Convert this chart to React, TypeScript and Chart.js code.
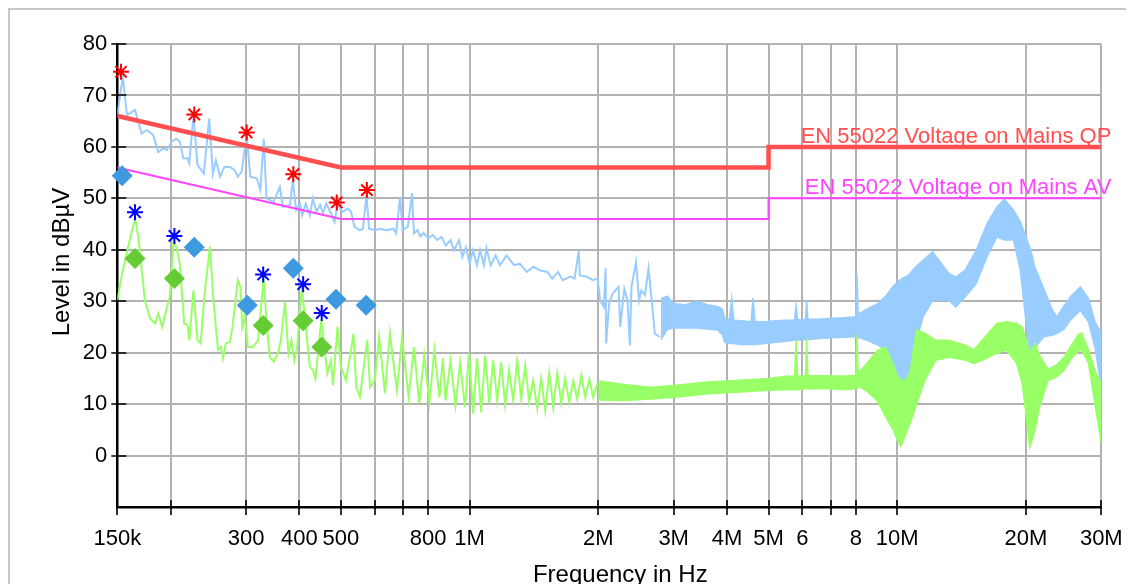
import React, { useEffect, useRef } from 'react';
import { Chart, registerables } from 'chart.js';

Chart.register(...registerables);

// ---------- axis ticks ----------
const xTickValuesHz = [150e3, 200e3, 300e3, 400e3, 500e3, 600e3, 700e3, 800e3, 1e6, 2e6, 3e6, 4e6, 5e6, 6e6, 7e6, 8e6, 10e6, 20e6, 30e6];
const xTickLabels = ['150k', '', '300', '400', '500', '', '', '800', '1M', '2M', '3M', '4M', '5M', '6', '', '8', '10M', '20M', '30M'];

// ---------- peak trace (light blue), [MHz, dBµV] ----------
const blueTrace: [number, number][] = [
  [0.150, 66.2], [0.1545, 73.6], [0.158, 66.2], [0.165, 67.2], [0.171, 62.6], [0.176, 63.3], [0.182, 62.3], [0.187, 59.0],
  [0.192, 59.7], [0.196, 59.4], [0.201, 61.0], [0.206, 61.6], [0.210, 61.0], [0.214, 57.8], [0.219, 57.8], [0.221, 56.8],
  [0.226, 66.2], [0.231, 56.5], [0.239, 54.8], [0.246, 65.5], [0.251, 54.8], [0.255, 57.4], [0.261, 54.2], [0.267, 56.1],
  [0.275, 56.1], [0.282, 55.5], [0.287, 54.2], [0.293, 55.2], [0.301, 62.3], [0.307, 54.2], [0.318, 53.9], [0.324, 51.6],
  [0.330, 61.6], [0.335, 50.0], [0.348, 49.3], [0.360, 52.2], [0.366, 48.3], [0.380, 48.7], [0.386, 53.5], [0.393, 47.7],
  [0.401, 49.0], [0.406, 46.7], [0.414, 49.0], [0.423, 46.7], [0.430, 50.0], [0.438, 47.4], [0.447, 48.7], [0.454, 47.1],
  [0.462, 49.0], [0.474, 47.1], [0.483, 45.4], [0.491, 48.7], [0.505, 47.4], [0.519, 48.0], [0.528, 47.4], [0.538, 44.5],
  [0.554, 43.8], [0.563, 44.1], [0.574, 50.6], [0.582, 44.1], [0.600, 43.8], [0.617, 44.1], [0.640, 43.8], [0.664, 44.1],
  [0.673, 43.2], [0.688, 50.3], [0.697, 43.8], [0.717, 44.5], [0.733, 51.0], [0.741, 43.2], [0.755, 43.8], [0.767, 42.6],
  [0.780, 43.3], [0.800, 42.2], [0.820, 42.9], [0.840, 41.9], [0.860, 42.5], [0.880, 40.8], [0.902, 41.9], [0.919, 39.9],
  [0.945, 41.9], [0.961, 38.6], [0.980, 40.5], [1.000, 37.3], [1.018, 39.9], [1.040, 37.0], [1.058, 39.9], [1.080, 37.0],
  [1.095, 40.3], [1.120, 37.0], [1.150, 38.9], [1.178, 37.0], [1.220, 38.9], [1.270, 37.0], [1.310, 37.3], [1.360, 35.7],
  [1.410, 36.7], [1.460, 36.0], [1.520, 35.7], [1.560, 34.4], [1.610, 35.7], [1.650, 34.1], [1.720, 34.8], [1.760, 34.4],
  [1.800, 39.9], [1.810, 35.0], [1.880, 34.8], [1.940, 34.1], [1.990, 34.4], [2.020, 30.2], [2.060, 28.9], [2.080, 36.4],
  [2.085, 21.8], [2.120, 29.6], [2.160, 31.5], [2.230, 32.8], [2.250, 25.0], [2.300, 32.4], [2.340, 30.2], [2.370, 21.4],
  [2.390, 32.8], [2.450, 37.6], [2.490, 30.2], [2.520, 32.1], [2.570, 31.2], [2.620, 36.4], [2.670, 29.6], [2.710, 23.7],
  [2.780, 23.1],
];
// dense part of the peak trace: [MHz, upper dBµV, lower dBµV]
const blueBand: [number, number, number][] = [
  [2.80, 30.5, 22.5], [2.90, 31.0, 24.5], [3.00, 29.5, 24.8], [3.20, 29.3, 24.8], [3.40, 30.0, 24.8], [3.60, 29.3, 24.6],
  [3.80, 29.0, 24.4], [3.90, 28.5, 23.5], [3.95, 26.5, 22.0], [4.05, 26.5, 21.8], [4.10, 30.6, 21.8], [4.15, 26.3, 21.8],
  [4.30, 26.2, 21.6], [4.55, 26.0, 21.6], [4.60, 30.6, 21.6], [4.65, 26.0, 21.6], [4.90, 26.0, 21.8], [5.20, 26.2, 22.0],
  [5.50, 26.3, 22.2], [5.75, 26.3, 22.4], [5.80, 29.2, 22.4], [5.85, 26.4, 22.4], [6.10, 26.4, 22.5], [6.14, 30.2, 22.5],
  [6.18, 26.5, 22.5], [6.50, 26.5, 22.7], [7.00, 26.7, 22.9], [7.50, 26.8, 23.0], [8.00, 27.0, 23.1], [8.05, 35.5, 23.1],
  [8.10, 27.5, 23.0], [8.50, 28.5, 22.4], [9.00, 29.5, 21.5], [9.40, 31.0, 20.5], [9.80, 33.0, 16.0], [10.10, 34.0, 11.5],
  [10.30, 34.5, 11.4], [10.60, 35.0, 15.0], [11.00, 36.5, 21.5], [11.50, 38.0, 27.0], [12.10, 39.6, 30.2], [13.20, 35.4, 30.2],
  [13.70, 34.7, 28.9], [14.40, 36.0, 30.8], [15.30, 39.9, 33.4], [16.20, 45.0, 38.6], [17.10, 48.3, 42.5], [17.80, 49.8, 41.9],
  [18.70, 47.7, 41.9], [19.40, 45.5, 36.0], [20.00, 42.5, 26.0], [20.50, 40.0, 18.0], [21.00, 36.5, 21.0], [22.00, 32.5, 23.1],
  [23.00, 28.5, 23.4], [23.60, 26.9, 23.7], [24.50, 29.0, 24.5], [25.50, 31.0, 26.5], [26.80, 32.8, 28.2], [28.00, 30.5, 26.0],
  [29.00, 26.0, 21.0], [30.00, 23.7, 13.3],
];

// ---------- average trace (light green), [MHz, dBµV] ----------
const greenTrace: [number, number][] = [
  [0.150, 30.2], [0.154, 35.4], [0.159, 40.6], [0.165, 46.1], [0.168, 42.5], [0.174, 30.2], [0.179, 26.6], [0.184, 25.7],
  [0.187, 27.6], [0.191, 25.0], [0.196, 28.9], [0.199, 30.8], [0.203, 41.5], [0.206, 40.6], [0.210, 37.3], [0.215, 25.7],
  [0.219, 25.3], [0.221, 22.4], [0.226, 32.1], [0.231, 22.4], [0.235, 21.8], [0.240, 31.5], [0.247, 40.6], [0.251, 31.5],
  [0.255, 25.0], [0.258, 20.5], [0.262, 21.1], [0.265, 18.9], [0.269, 21.8], [0.275, 22.1], [0.279, 25.0], [0.287, 34.1],
  [0.291, 32.8], [0.294, 25.0], [0.298, 27.0], [0.303, 21.1], [0.311, 21.1], [0.320, 22.4], [0.330, 34.7], [0.335, 25.7],
  [0.341, 19.2], [0.348, 18.2], [0.356, 19.8], [0.362, 22.4], [0.370, 29.9], [0.377, 19.8], [0.383, 22.4], [0.389, 18.5],
  [0.395, 21.0], [0.405, 32.8], [0.414, 25.0], [0.423, 17.2], [0.430, 16.6], [0.436, 15.0], [0.441, 19.2], [0.450, 26.3],
  [0.457, 21.1], [0.465, 16.0], [0.474, 18.5], [0.479, 13.7], [0.491, 25.0], [0.500, 17.2], [0.514, 14.6], [0.528, 20.5],
  [0.535, 23.7], [0.543, 13.3], [0.554, 11.4], [0.563, 16.0], [0.576, 22.4], [0.585, 13.3], [0.600, 14.6], [0.614, 23.1],
  [0.634, 12.1], [0.651, 23.8], [0.676, 12.7], [0.695, 23.0], [0.720, 11.3], [0.741, 21.1], [0.762, 10.2], [0.783, 19.5],
  [0.805, 10.3], [0.827, 20.5], [0.850, 11.3], [0.866, 18.9], [0.878, 10.7], [0.902, 18.5], [0.927, 9.8], [0.950, 18.1],
  [0.975, 9.4], [0.997, 19.9], [1.019, 8.2], [1.041, 18.9], [1.064, 8.4], [1.087, 19.5], [1.111, 10.2], [1.135, 18.5],
  [1.160, 10.7], [1.185, 18.1], [1.211, 9.8], [1.237, 16.6], [1.264, 10.7], [1.292, 18.5], [1.320, 11.1], [1.349, 17.5],
  [1.378, 10.5], [1.408, 14.6], [1.439, 9.2], [1.470, 15.0], [1.502, 8.8], [1.535, 16.0], [1.568, 9.4], [1.603, 16.0],
  [1.638, 10.2], [1.673, 15.0], [1.710, 10.3], [1.747, 14.5], [1.785, 11.0], [1.824, 15.6], [1.864, 11.3], [1.905, 14.8],
  [1.946, 11.3], [1.989, 14.0],
];
// dense part of the average trace: [MHz, upper dBµV, lower dBµV]
const greenBand: [number, number, number][] = [
  [2.00, 14.5, 10.8], [2.30, 13.8, 10.7], [2.65, 13.3, 11.0], [3.00, 13.6, 11.3], [3.60, 14.3, 12.0], [4.20, 14.6, 12.3],
  [5.00, 15.0, 12.7], [5.50, 15.4, 12.8], [5.75, 15.4, 12.8], [5.80, 22.4, 12.8], [5.85, 15.4, 12.8], [6.10, 15.5, 13.0],
  [6.14, 22.8, 13.0], [6.18, 15.5, 13.0], [7.00, 15.5, 13.0], [7.50, 15.4, 12.8], [8.00, 15.6, 13.0], [8.05, 23.5, 13.0],
  [8.10, 16.0, 13.5], [8.50, 18.0, 12.5], [9.00, 20.5, 10.5], [9.40, 21.0, 7.5], [9.80, 17.5, 4.9], [10.00, 15.5, 3.0],
  [10.20, 14.6, 1.8], [10.40, 14.5, 3.6], [10.70, 16.0, 6.2], [10.90, 20.5, 8.0], [11.10, 24.4, 10.1], [11.60, 23.8, 14.6],
  [12.30, 22.4, 18.5], [13.20, 22.4, 19.1], [14.50, 21.4, 18.5], [15.10, 20.5, 17.9], [15.80, 22.4, 18.5], [17.10, 25.7, 19.9],
  [18.00, 26.0, 20.5], [19.00, 25.7, 18.0], [19.60, 25.0, 14.0], [20.00, 22.5, 8.0], [20.40, 20.0, 1.6], [21.00, 21.8, 5.0],
  [21.50, 19.5, 9.4], [22.50, 16.8, 14.6], [23.50, 17.5, 15.2], [24.50, 19.0, 16.5], [25.50, 21.3, 18.8], [26.50, 23.5, 20.3],
  [27.00, 23.8, 20.5], [28.00, 20.5, 17.9], [29.00, 16.5, 10.0], [30.00, 14.0, 2.4],
];

// ---------- limit lines ----------
const limitFreqMHz = [0.15, 0.5, 5, 5, 30];
const qpLimitLevel = [66, 56, 56, 60, 60];
const avLimitLevel = [56, 46, 46, 50, 50];
const qpLimitLabel = 'EN 55022 Voltage on Mains QP';
const avLimitLabel = 'EN 55022 Voltage on Mains AV';

// ---------- final measurement markers ----------
const redStarFreqMHz = [0.153, 0.227, 0.301, 0.387, 0.489, 0.575];
const redStarLevel = [74.6, 66.3, 62.8, 54.7, 49.2, 51.6];
const blueDiamondFreqMHz = [0.154, 0.227, 0.302, 0.387, 0.487, 0.573];
const blueDiamondLevel = [54.4, 40.5, 29.2, 36.4, 30.4, 29.2];
const blueStarFreqMHz = [0.165, 0.204, 0.329, 0.408, 0.451];
const blueStarLevel = [47.3, 42.7, 35.2, 33.3, 27.7];
const greenDiamondFreqMHz = [0.165, 0.204, 0.329, 0.408, 0.451];
const greenDiamondLevel = [38.3, 34.4, 25.3, 26.2, 21.1];

const FONT = '"Liberation Sans", Arial, Helvetica, sans-serif';
const C_BLUE = '#99ccff';
const C_GREEN = '#99ff66';
const C_QP = '#ff4f4f';
const C_AV = '#ff44ff';

const pts = (f: number[], v: number[]) => f.map((m, i) => ({ x: m * 1e6, y: v[i] }));
const pairPts = (a: [number, number][]) => a.map(([m, v]) => ({ x: m * 1e6, y: v }));
const bandPts = (a: [number, number, number][], k: 1 | 2) => a.map((r) => ({ x: r[0] * 1e6, y: r[k] }));

const overlayPlugin = {
  id: 'overlay',
  afterDraw(chart: any) {
    const { ctx, chartArea, scales } = chart;
    const xs = scales.x;
    const ys = scales.y;
    ctx.save();
    // tick marks crossing the axes
    ctx.strokeStyle = '#000';
    ctx.lineWidth = 1.6;
    ctx.beginPath();
    for (const v of xTickValuesHz) {
      const px = Math.round(xs.getPixelForValue(v));
      ctx.moveTo(px, chartArea.bottom - 7);
      ctx.lineTo(px, chartArea.bottom + 8);
    }
    for (const t of ys.ticks) {
      if (t.value <= -10) continue;
      const py = Math.round(ys.getPixelForValue(t.value));
      ctx.moveTo(chartArea.left - 6, py);
      ctx.lineTo(chartArea.left + 9, py);
    }
    ctx.stroke();

    // limit labels
    ctx.font = `22px ${FONT}`;
    ctx.textAlign = 'right';
    ctx.textBaseline = 'alphabetic';
    const xr = xs.getPixelForValue(30e6) + 10;
    ctx.fillStyle = C_QP;
    ctx.fillText(qpLimitLabel, xr, ys.getPixelForValue(60) - 4);
    ctx.fillStyle = C_AV;
    ctx.fillText(avLimitLabel, xr, ys.getPixelForValue(50) - 4);

    // axis titles
    ctx.fillStyle = '#000';
    ctx.font = `24px ${FONT}`;
    ctx.textAlign = 'center';
    ctx.fillText('Frequency in Hz', (chartArea.left + chartArea.right) / 2 + 11, chartArea.bottom + 75);
    ctx.translate(chartArea.left - 55, chartArea.top + 218);
    ctx.rotate(-Math.PI / 2);
    ctx.textBaseline = 'middle';
    ctx.fillText('Level in dBµV', 0, 0);
    ctx.restore();
  },
};

export default function App() {
  const ref = useRef<HTMLCanvasElement>(null);

  useEffect(() => {
    document.documentElement.style.overflow = 'hidden';
    document.body.style.overflow = 'hidden';
    Chart.defaults.font.family = FONT;
    const line = { pointRadius: 0, tension: 0, showLine: true };
    const config: any = {
      type: 'scatter',
      data: {
        datasets: [
          { showLine: false, data: pts(redStarFreqMHz, redStarLevel), pointStyle: 'star', pointRadius: 8, borderColor: '#ff0000', borderWidth: 2, order: 1, clip: false },
          { showLine: false, data: pts(blueStarFreqMHz, blueStarLevel), pointStyle: 'star', pointRadius: 8, borderColor: '#0000ff', borderWidth: 2, order: 1, clip: false },
          { showLine: false, data: pts(blueDiamondFreqMHz, blueDiamondLevel), pointStyle: 'rectRot', pointRadius: 10.5, backgroundColor: '#3d9ae0', borderColor: '#3d9ae0', borderWidth: 0, order: 2, clip: false },
          { showLine: false, data: pts(greenDiamondFreqMHz, greenDiamondLevel), pointStyle: 'rectRot', pointRadius: 10.5, backgroundColor: '#66cc33', borderColor: '#66cc33', borderWidth: 0, order: 2, clip: false },
          { ...line, data: pts(limitFreqMHz, qpLimitLevel), borderColor: C_QP, borderWidth: 4.5, order: 4 },
          { ...line, data: pts(limitFreqMHz, avLimitLevel), borderColor: C_AV, borderWidth: 2, order: 4 },
          { ...line, data: pairPts(greenTrace), borderColor: C_GREEN, borderWidth: 2, order: 6 },
          { ...line, data: bandPts(greenBand, 1), borderColor: C_GREEN, backgroundColor: C_GREEN, borderWidth: 1.5, fill: '+1', order: 6 },
          { ...line, data: bandPts(greenBand, 2), borderColor: C_GREEN, borderWidth: 1.5, order: 6 },
          { ...line, data: pairPts(blueTrace), borderColor: C_BLUE, borderWidth: 2, order: 8 },
          { ...line, data: bandPts(blueBand, 1), borderColor: C_BLUE, backgroundColor: C_BLUE, borderWidth: 1.5, fill: '+1', order: 8 },
          { ...line, data: bandPts(blueBand, 2), borderColor: C_BLUE, borderWidth: 1.5, order: 8 },
        ],
      },
      options: {
        animation: false,
        responsive: false,
        devicePixelRatio: 1,
        events: [],
        layout: { padding: { left: 0, top: 34, right: 32.7, bottom: 0 } },
        plugins: { legend: { display: false }, tooltip: { enabled: false }, title: { display: false } },
        scales: {
          x: {
            type: 'logarithmic',
            min: 150e3,
            max: 30e6,
            afterBuildTicks: (s: any) => {
              s.ticks = xTickValuesHz.map((v) => ({ value: v }));
            },
            afterFit: (s: any) => {
              s.height = 91;
              s.paddingLeft = 0;
              s.paddingRight = 0;
            },
            grid: { color: '#b2b2b2', lineWidth: 2, drawTicks: false },
            border: { display: true, color: '#000', width: 2.5 },
            ticks: {
              autoSkip: false,
              maxRotation: 0,
              minRotation: 0,
              padding: 19,
              color: '#000',
              font: { size: 22, family: FONT },
              callback: (_v: any, i: number) => xTickLabels[i],
            },
          },
          y: {
            type: 'linear',
            min: -10,
            max: 80,
            afterFit: (s: any) => {
              s.width = 107.3;
              s.paddingTop = 0;
              s.paddingBottom = 0;
            },
            grid: { color: '#b2b2b2', lineWidth: 2, drawTicks: false },
            border: { display: true, color: '#000', width: 2.5 },
            ticks: {
              stepSize: 5,
              padding: 10,
              color: '#000',
              font: { size: 22, family: FONT },
              callback: (v: any) => (Number(v) % 10 === 0 && Number(v) >= 0 ? String(v) : ''),
            },
          },
        },
      },
      plugins: [overlayPlugin],
    };
    const chart = new Chart(ref.current as HTMLCanvasElement, config);
    return () => chart.destroy();
  }, []);

  return (
    <div
      style={{
        position: 'relative',
        width: 1126,
        height: 590,
        boxSizing: 'border-box',
        borderTop: '2px solid #c6c6c6',
        borderLeft: '2px solid #c6c6c6',
        overflow: 'hidden',
        background: '#fff',
      }}
    >
      <canvas ref={ref} width={1124} height={588} style={{ display: 'block', width: 1124, height: 588 }} />
    </div>
  );
}
